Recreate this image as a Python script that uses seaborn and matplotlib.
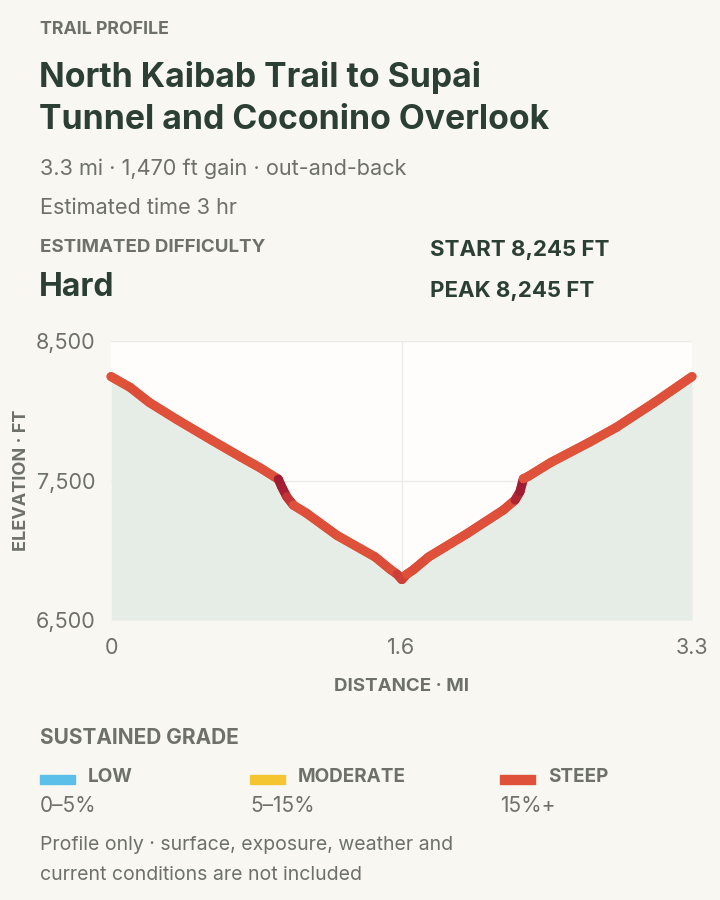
import numpy as np
import pandas as pd
import seaborn as sns
import matplotlib.pyplot as plt
from matplotlib.collections import LineCollection
from matplotlib.colors import LinearSegmentedColormap

# Trail profile
distance_mi = [0.0, 0.109, 0.217, 0.370, 0.576, 0.739, 0.848, 0.930, 0.950, 0.969,
               0.998, 1.035, 1.111, 1.283, 1.500, 1.587, 1.625, 1.652, 1.680, 1.717,
               1.804, 2.022, 2.229, 2.295, 2.323, 2.342, 2.370, 2.500, 2.717, 2.870,
               3.087, 3.3]
elevation_ft = [8245, 8167, 8060, 7940, 7786, 7667, 7590, 7525, 7510, 7456,
                7384, 7324, 7265, 7107, 6952, 6862, 6828, 6790, 6828, 6860,
                6952, 7119, 7289, 7360, 7420, 7512, 7530, 7631, 7774, 7881,
                8060, 8245]

x_ticks = [0, 1.65, 3.3]
x_tick_labels = ["0", "1.6", "3.3"]
y_ticks = [6500, 7500, 8500]
y_tick_labels = ["6,500", "7,500", "8,500"]

legend_names = ["LOW", "MODERATE", "STEEP"]
legend_ranges = ["0\u20135%", "5\u201315%", "15%+"]
legend_colors = ["#5bbfea", "#f5c431", "#e0513a"]

BG = "#f8f7f2"
DARK = "#2c3f35"
GRAY = "#6d716a"

sns.set_theme(style="white")
plt.rcParams["font.family"] = ["Inter", "DejaVu Sans"]

df = pd.DataFrame({"dist": distance_mi, "elev": elevation_ft})

fig = plt.figure(figsize=(7.2, 9), dpi=100, facecolor=BG)
ax = fig.add_axes([0.1542, 0.3111, 0.8069, 0.31])
ax.set_facecolor("#fefdfb")

ax.fill_between(df["dist"], 6500, df["elev"], color="#e6ede6", lw=0, zorder=1)
for yv in y_ticks:
    ax.axhline(yv, color="#ebebe8", lw=1, zorder=0.5)
ax.axvline(1.65, color="#ebebe8", lw=1, zorder=0.5)

sns.lineplot(data=df, x="dist", y="elev", ax=ax, color="#e0513a", lw=6.5,
             solid_capstyle="round", solid_joinstyle="round", zorder=2, clip_on=False)

# colour each segment by its grade
pts = df[["dist", "elev"]].to_numpy()
grade = np.abs(np.diff(df["elev"])) / (np.diff(df["dist"]) * 5280) * 100
cmap = LinearSegmentedColormap.from_list(
    "steep", [(0, "#e8773b"), (0.095, "#e0533a"), (0.286, "#dc4d39"),
              (0.643, "#b92a35"), (1, "#a01c33")])
seg = np.stack([pts[:-1], pts[1:]], axis=1)
lc = LineCollection(seg, colors=cmap(np.clip((grade - 8) / 42, 0, 1)), lw=6.5,
                    capstyle="round", joinstyle="round", zorder=3, clip_on=False)
ax.add_collection(lc)

ax.set_xlim(0, 3.3)
ax.set_ylim(6500, 8500)
ax.set_xticks(x_ticks, x_tick_labels)
ax.set_yticks(y_ticks, y_tick_labels)
ax.tick_params(axis="both", length=0, labelsize=15.5, labelcolor=GRAY)
ax.tick_params(axis="y", pad=11)
ax.tick_params(axis="x", pad=13)
ax.set_xlabel("DISTANCE \u00b7 MI", fontsize=13.5, fontweight="bold", color=GRAY, labelpad=14)
ax.set_ylabel("ELEVATION \u00b7 FT", fontsize=13, fontweight="bold", color=GRAY, labelpad=4)
sns.despine(ax=ax, left=True, bottom=True)

def px(x, y):
    return x / 720, 1 - y / 900

def put(x, y, s, size, color, weight="normal"):
    fig.text(*px(x, y), s, fontsize=size, color=color, fontweight=weight, va="center", ha="left")

put(40, 30, "TRAIL PROFILE", 12.8, GRAY, "bold")
put(39, 78, "North Kaibab Trail to Supai", 24.3, DARK, "bold")
put(39, 120, "Tunnel and Coconino Overlook", 24.3, DARK, "bold")
put(40, 169, "3.3 mi \u00b7 1,470 ft gain \u00b7 out-and-back", 15.6, GRAY)
put(40, 208, "Estimated time 3 hr", 15.6, GRAY)
put(40, 248, "ESTIMATED DIFFICULTY", 13.5, GRAY, "bold")
put(39, 288, "Hard", 23, DARK, "bold")
put(430, 250, "START 8,245 FT", 16, DARK, "bold")
put(430, 291, "PEAK 8,245 FT", 16, DARK, "bold")

put(40, 738, "SUSTAINED GRADE", 15, GRAY, "bold")
for i, (name, rng, col) in enumerate(zip(legend_names, legend_ranges, legend_colors)):
    x0 = [40, 250, 500][i]
    fig.patches.append(plt.Rectangle(px(x0, 784), 35 / 720, 9 / 900, color=col,
                                     transform=fig.transFigure, figure=fig))
    put(x0 + 48, 777, name, 13.6, GRAY, "bold")
    put(x0, 806, rng, 15, GRAY)

put(40, 845, "Profile only \u00b7 surface, exposure, weather and", 14, GRAY)
put(40, 875, "current conditions are not included", 14, GRAY)

fig.savefig("out.png", dpi=100, facecolor=BG)
